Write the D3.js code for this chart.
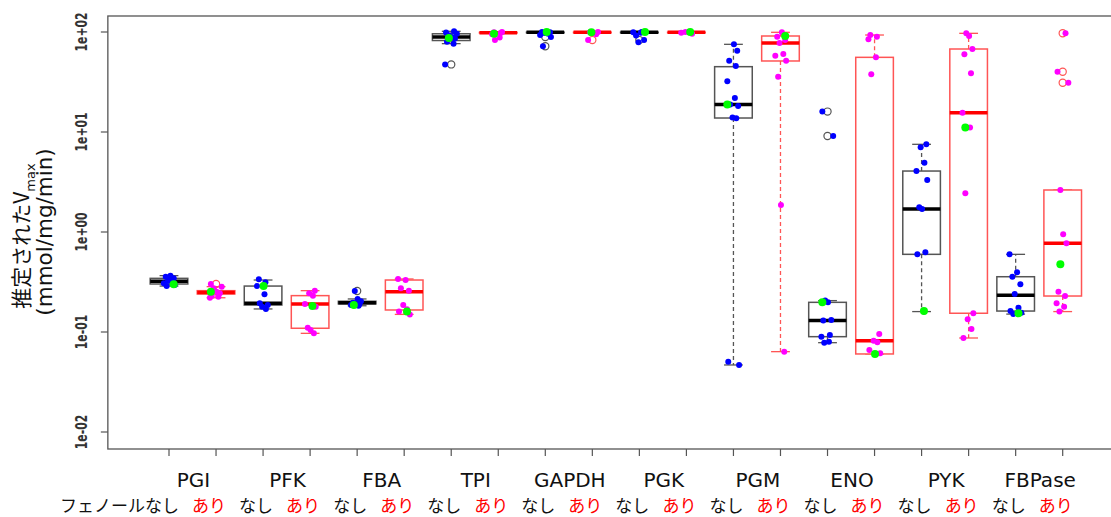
<!DOCTYPE html>
<html><head><meta charset="utf-8">
<script src="https://cdn.jsdelivr.net/npm/d3@7"></script>
<style>body{margin:0;background:#fff;} svg{display:block;}</style>
</head><body>
<svg id="chart" width="1111" height="517"></svg>
<script>
// ---------- data ----------
const enzymes = ["PGI","PFK","FBA","TPI","GAPDH","PGK","PGM","ENO","PYK","FBPase"];
const phenolLabels = ["なし","あり"];
const firstLabelPrefix = "フェノール";
const yTickValues = [0.01, 0.1, 1, 10, 100];
const yTickLabels = ["1e-02","1e-01","1e+00","1e+01","1e+02"];

// box statistics, one entry per box (enzyme × なし/あり)
const whiskerLow  = [0.288,0.220, 0.170,0.0970, 0.183,0.150, 76.5,97.0, 97.0,97.0, 97.0,97.0, 0.0468,0.0636, 0.0782,0.0603, 0.160,0.0871, 0.151,0.160];
const quartile1   = [0.302,0.240, 0.186,0.109,  0.191,0.166, 82.2,98.0, 98.4,98.4, 98.4,98.4, 13.8,51.3,     0.0898,0.0603, 0.598,0.154,  0.162,0.229];
const medians     = [0.321,0.249, 0.194,0.191,  0.196,0.253, 89.1,98.4, 99.3,99.3, 99.3,99.3, 18.8,77.6,     0.130,0.0818,  1.70,15.6,    0.233,0.771];
const quartile3   = [0.344,0.259, 0.288,0.231,  0.203,0.331, 96.0,99.0, 99.5,99.5, 99.5,99.5, 45.0,91.2,     0.198,55.8,    4.07,67.6,    0.357,2.63];
const whiskerHigh = [0.366,0.284, 0.331,0.259,  0.214,0.339, 101.6,100,100,100,  100,100,    75.3,99.3,     0.206,93.3,    7.53,97.0,    0.598,2.63];
const outliers = [
  [],[0.302], [],[], [0.257],[], [47.4],[], [89.1,72.0],[83.0], [83.0],[], [],[], [16.0,9.12],[], [],[], [],[97.0,40.1,31.1]
];
const observations = [
  [0.366,0.357,0.344,0.326,0.321,0.307,0.295,0.288],
  [0.302,0.284,0.274,0.253,0.244,0.229,0.225,0.220],
  [0.337,0.314,0.288,0.238,0.194,0.186,0.179,0.170],
  [0.259,0.244,0.231,0.191,0.179,0.110,0.105,0.0970],
  [0.257,0.214,0.203,0.196,0.191,0.186,0.183],
  [0.339,0.331,0.274,0.259,0.186,0.169,0.160,0.150],
  [101.5,99.0,96.0,93.0,89.0,86.0,80.0,76.5,47.4],
  [100,99.3,97.5,95.0,88.0,83.0],
  [100,99.3,98.0,96.0,93.3,89.1,72.0],
  [100,99.3,98.4,95.0,83.0],
  [100,99.3,98.4,92.0,83.0,79.0],
  [100,99.3,98.4,96.0],
  [75.3,65.0,51.6,45.7,32.1,21.9,18.8,18.2,14.0,13.7,0.0505,0.0468],
  [99.3,89.7,83.2,77.6,60.3,57.9,51.6,35.7,1.86,0.0636],
  [16.0,9.12,0.206,0.198,0.132,0.130,0.0933,0.0898,0.0800,0.0782],
  [93.3,89.7,84.5,55.8,37.8,0.0955,0.0818,0.0788,0.0661,0.0612],
  [7.53,7.03,4.93,4.07,3.31,1.77,1.70,0.627,0.598,0.160],
  [97.0,91.2,67.6,59.8,38.6,15.6,11.1,2.44,0.154,0.134,0.107,0.0871],
  [0.598,0.395,0.357,0.300,0.240,0.175,0.162,0.156,0.151],
  [97.0,40.1,31.1,2.63,0.948,0.771,0.253,0.229,0.194,0.179,0.160]
];
const referenceValues = [0.300,0.253, 0.288,0.182, 0.186,0.160, 87.0,96.0, 100,99.3, 100,100, 18.8,91.2, 0.198,0.0603, 0.162,11.1, 0.154,0.475];

// ---------- drawing ----------
const svg = d3.select("#chart");
const x = d3.scaleLinear().domain([1, 20]).range([169, 1062.7]);
const y = d3.scaleLog().domain([0.01, 100]).range([432, 32]);
const unit = x(2) - x(1);
const plotLeft = x(-0.3), plotRight = x(21.3);
const plotTop = y(Math.pow(10, 2.16)), plotBottom = y(Math.pow(10, -2.17));

const jitter = [0.03,-0.07,0.10,-0.02,0.06,-0.11,0.12,-0.05,0.01,0.08,-0.09,0.05,-0.13];
const cols = {
  0: {border:"#555555", med:"#000000", pt:"#0000ff"},
  1: {border:"#ff5555", med:"#ff0000", pt:"#ff00ff"}
};

// frame
svg.append("rect").attr("x", plotLeft).attr("y", plotTop).attr("width", plotRight-plotLeft).attr("height", plotBottom-plotTop)
  .attr("fill","none").attr("stroke","#555").attr("stroke-width",1.3);

// y axis
const ya = svg.append("g");
yTickValues.forEach((v,k) => {
  ya.append("line").attr("x1", plotLeft-7).attr("x2", plotLeft).attr("y1", y(v)).attr("y2", y(v))
    .attr("stroke","#555").attr("stroke-width",1.2);
  ya.append("text").attr("transform", `translate(87,${y(v)}) rotate(-90) scale(0.72,1)`)
    .attr("text-anchor","middle").attr("font-family","DejaVu Sans").attr("font-weight","bold")
    .attr("font-size",15).attr("fill","#333").text(yTickLabels[k]);
});

// y title
const t1 = svg.append("text").attr("transform","translate(29,236) rotate(-90)")
  .attr("text-anchor","middle").attr("font-family","'Noto Sans CJK JP', 'DejaVu Sans'").attr("font-size",21).attr("fill","#111");
t1.append("tspan").text("推定されたV");
t1.append("tspan").attr("font-size",13).attr("dy",6).attr("font-family","DejaVu Sans").text("max");
svg.append("text").attr("transform","translate(52,232) rotate(-90)")
  .attr("text-anchor","middle").attr("font-family","DejaVu Sans").attr("font-size",21.5).attr("fill","#111")
  .text("(mmol/mg/min)");

// x ticks & labels
const boxes = d3.range(20);
svg.append("g").selectAll("line").data(boxes).join("line")
  .attr("x1", i => x(i+1)).attr("x2", i => x(i+1)).attr("y1", plotBottom).attr("y2", plotBottom+7)
  .attr("stroke","#555").attr("stroke-width",1.2);
svg.append("g").selectAll("text").data(enzymes).join("text")
  .attr("x", (d,k) => (x(2*k+1)+x(2*k+2))/2 + 1).attr("y", 487)
  .attr("text-anchor","middle").attr("font-family","DejaVu Sans").attr("font-size",20).attr("fill","#111")
  .text(d => d);
svg.append("g").selectAll("text").data(boxes).join("text")
  .attr("x", i => i === 0 ? x(1) + 10 : x(i+1) - 7).attr("y", 512)
  .attr("text-anchor", i => i === 0 ? "end" : "middle")
  .attr("font-family","'Noto Sans CJK JP'").attr("font-size",17)
  .attr("fill", i => i % 2 ? "#ff0000" : "#111")
  .text(i => (i === 0 ? firstLabelPrefix : "") + phenolLabels[i % 2]);

// boxplots
const g = svg.append("g");
boxes.forEach(i => {
  const c = cols[i % 2];
  const cx = x(i+1), hw = 0.4*unit, sw = 0.2*unit;
  [[quartile3[i], whiskerHigh[i]], [quartile1[i], whiskerLow[i]]].forEach(([a,b]) => {
    if (Math.abs(y(a)-y(b)) > 0.5)
      g.append("line").attr("x1",cx).attr("x2",cx).attr("y1",y(a)).attr("y2",y(b))
        .attr("stroke",c.border).attr("stroke-width",1.3).attr("stroke-dasharray","4,3");
    g.append("line").attr("x1",cx-sw).attr("x2",cx+sw).attr("y1",y(b)).attr("y2",y(b))
      .attr("stroke",c.border).attr("stroke-width",1.3);
  });
  g.append("rect").attr("x",cx-hw).attr("width",2*hw)
    .attr("y",y(quartile3[i])).attr("height",Math.max(0.5, y(quartile1[i])-y(quartile3[i])))
    .attr("fill","#fff").attr("stroke",c.border).attr("stroke-width",1.5);
  g.append("line").attr("x1",cx-hw).attr("x2",cx+hw).attr("y1",y(medians[i])).attr("y2",y(medians[i]))
    .attr("stroke",c.med).attr("stroke-width",3.5);
  outliers[i].forEach(v => {
    g.append("circle").attr("cx",cx).attr("cy",y(v)).attr("r",3.6)
      .attr("fill","none").attr("stroke",c.border).attr("stroke-width",1.2);
  });
});

// observations
boxes.forEach(i => {
  const c = cols[i % 2];
  svg.append("g").selectAll("circle").data(observations[i]).join("circle")
    .attr("cx",(v,j) => x(i+1) + jitter[(j + i*5) % jitter.length]*unit)
    .attr("cy", v => y(v)).attr("r",3).attr("fill",c.pt);
});
svg.append("g").selectAll("circle").data(referenceValues).join("circle")
  .attr("cx",(v,i) => x(i+1) + jitter[(i*3+2) % jitter.length]*unit)
  .attr("cy", v => y(v)).attr("r",4).attr("fill","#00ff00");
</script>
</body></html>
